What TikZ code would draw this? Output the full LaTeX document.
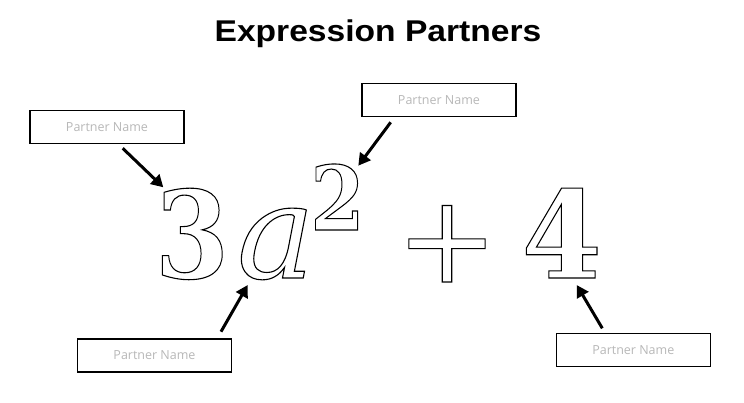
\documentclass[tikz,border=0pt]{standalone}
\usepackage{fontspec}
\usetikzlibrary{arrows.meta}
\setmainfont{Liberation Sans}
\newfontfamily\titlefont{Liberation Sans}
\newfontfamily\boxfont{Open Sans}
\newfontfamily\glyphfont{DejaVu Serif}
\newcommand{\outlinetext}[1]{\special{pdf:literal direct 1 Tr 1.1 w}#1\special{pdf:literal direct 0 Tr}}
\definecolor{boxgray}{HTML}{B8B8B8}
\tikzset{
  namebox/.style={draw=black, line width=1.2pt, minimum width=154pt, minimum height=33pt, inner sep=0pt,
    font=\boxfont\fontsize{12.5}{14}\selectfont, text=boxgray},
  pointer/.style={line width=3pt, -{Triangle[length=12pt,width=13pt]}},
  glyph/.style={inner sep=0pt, anchor=base, transform shape},
}
\begin{document}
\begin{tikzpicture}[x=1pt,y=1pt]
\path[use as bounding box, fill=white] (0,0) rectangle (744,403);
\node[anchor=base, inner sep=0pt, xscale=1.12, transform shape] (title) at (378,361.7)
  {\titlefont\bfseries\fontsize{30}{36}\selectfont Expression Partners};
% glyphs
\node[glyph, xscale=0.88] (three) at (192,125) {\glyphfont\bfseries\fontsize{121}{121}\selectfont\outlinetext{3}};
\node[glyph] (avar) at (276,125) {\glyphfont\itshape\fontsize{131}{131}\selectfont\outlinetext{a}};
\node[glyph, xscale=0.88] (sup) at (337.5,173) {\glyphfont\bfseries\fontsize{89}{89}\selectfont\outlinetext{2}};
\node[glyph] (plus) at (447,121) {\glyphfont\fontsize{122}{122}\selectfont\outlinetext{+}};
\node[glyph, xscale=0.95] (four) at (561.7,125) {\glyphfont\bfseries\fontsize{121}{121}\selectfont\outlinetext{4}};
% boxes
\node[namebox] (b1) at (107,276) {Partner Name};
\node[namebox] (b2) at (439,302.7) {Partner Name};
\node[namebox] (b3) at (154.5,47.5) {Partner Name};
\node[namebox] (b4) at (633.3,52.7) {Partner Name};
% arrow ends
\coordinate (s1) at (122.7,254.7); \coordinate (t1) at (163.3,215.7);
\coordinate (s2) at (390.7,280.7); \coordinate (t2) at (358.3,237.3);
\coordinate (s3) at (221,71.3);    \coordinate (t3) at (247.7,118);
\coordinate (s4) at (602.3,74.7);  \coordinate (t4) at (576.7,118);
\draw[pointer] (s1) -- (t1);
\draw[pointer] (s2) -- (t2);
\draw[pointer] (s3) -- (t3);
\draw[pointer] (s4) -- (t4);
\end{tikzpicture}
\end{document}
